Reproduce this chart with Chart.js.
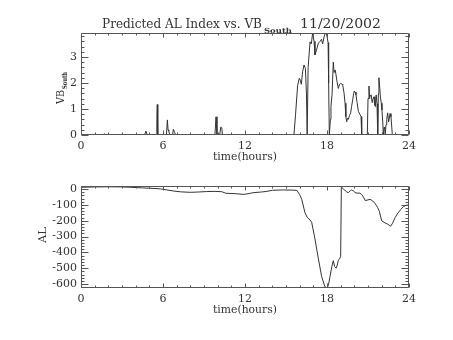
<!DOCTYPE html>
<html lang="en">
<head>
  <meta charset="UTF-8">
  <title>Predicted AL Index vs. VBSouth 11/20/2002</title>
  <script src="https://cdn.jsdelivr.net/npm/chart.js"></script>
  <style>
    body { margin: 0; background: #fff; }
    canvas { display: block; }
  </style>
</head>
<body>
  <canvas id="vbChart" width="453" height="170"></canvas>
  <canvas id="alChart" width="453" height="170"></canvas>
  <script>
    const FONT = '"DejaVu Serif", "Liberation Serif", serif';
    const INK = '#333';

    const hourTicks = [0, 6, 12, 18, 24];

    // solar wind VB south component
    const vbHours = [0, 1.6, 1.7, 1.8, 4.65, 4.75, 4.85, 5.5, 5.55, 5.58, 5.62, 6.25, 6.32, 6.37, 6.42, 6.5,
      6.7, 6.76, 6.85, 6.92, 9.8, 9.88, 9.95, 10.15, 10.22, 10.3, 10.35,
      15.58, 15.7, 15.85, 15.97, 16.05, 16.12, 16.22, 16.32, 16.42, 16.5, 16.55, 16.62, 16.76, 16.85, 16.95,
      17.05, 17.12, 17.25, 17.37, 17.5, 17.6, 17.68, 17.8, 17.88, 17.98, 18.08, 18.12, 18.17, 18.25, 18.29,
      18.37, 18.46, 18.52, 18.6, 18.66, 18.75, 18.83, 18.92, 19.0, 19.1, 19.15, 19.25, 19.32, 19.38, 19.44,
      19.5, 19.56, 19.65, 19.73, 19.8, 19.88, 19.95, 20.0, 20.05, 20.12, 20.2, 20.3, 20.4, 20.49, 20.52, 20.56,
      20.95, 21.0, 21.07, 21.12, 21.15, 21.24, 21.3, 21.34, 21.44, 21.5, 21.54, 21.6, 21.66, 21.71, 21.76,
      21.8, 21.86, 21.9, 21.97, 22.02, 22.08, 22.12, 22.18, 22.22, 22.26, 22.32, 22.37, 22.44, 22.51, 22.56,
      22.61, 22.68, 22.74, 22.78, 24];
    const vbValues = [0, 0, 0.05, 0, 0, 0.15, 0, 0, 0.6, 1.17, 0, 0, 0.58, 0.2, 0.15, 0,
      0, 0.22, 0.1, 0, 0, 0.7, 0, 0, 0.3, 0.28, 0,
      0, 0.8, 1.9, 2.18, 2.1, 1.95, 2.45, 2.69, 2.56, 1.5, 0, 2.6, 3.58, 3.5, 3.92,
      3.6, 3.08, 3.3, 3.53, 3.6, 3.68, 3.5, 3.8, 3.92, 3.85, 3.55, 2.0, 0, 0.6, 1.1,
      1.56, 2.8, 2.4, 2.5, 2.31, 2.0, 1.79, 1.95, 1.99, 1.95, 1.92, 1.6, 1.22, 0.7, 0.51,
      0.65, 0.6, 0.75, 0.85, 1.1, 1.35, 1.6, 1.69, 1.65, 1.54, 1.25, 0.9, 0.8, 0.71, 0.5, 0,
      0, 1.4, 1.88, 1.4, 1.5, 1.54, 1.25, 1.35, 1.47, 1.15, 1.09, 1.54, 1.2, 0, 1.6,
      2.2, 1.8, 1.5, 1.22, 0.96, 0.5, 0, 0.3, 0.25, 0, 0.4, 0.6, 0.85, 0.5, 0.65,
      0.82, 0.7, 0.3, 0, 0];
    const vbTicks = [0, 1, 2, 3];

    // predicted AL index
    const alHours = [0, 1, 2, 3, 3.6, 4.5, 5.2, 5.8, 6.3, 6.8, 7.3, 8.0, 8.6, 9.2, 9.8, 10.3, 10.6, 11.2,
      11.9, 12.3, 12.6, 13.2, 13.6, 14.0, 14.8, 15.5, 15.8, 16.0, 16.15, 16.39, 16.55, 16.76, 16.88, 17.12,
      17.37, 17.61, 17.85, 18.02, 18.12, 18.22, 18.35, 18.46, 18.56, 18.66, 18.75, 18.83, 18.92, 19.0, 19.05,
      19.2, 19.32, 19.45, 19.56, 19.7, 19.8, 19.93, 20.05, 20.2, 20.41, 20.55, 20.7, 20.8, 21.0, 21.15, 21.35,
      21.51, 21.7, 21.83, 22.0, 22.24, 22.45, 22.66, 22.8, 22.98, 23.2, 23.4, 23.63, 23.8, 24.0];
    const alValues = [12, 14, 15, 14, 12, 8, 5, 2, -5, -12, -17, -20, -18, -15, -14, -16, -26, -28,
      -33, -28, -22, -18, -14, -7, -5, -6, -8, -35, -64, -149, -178, -195, -210, -315,
      -440, -553, -617, -625, -600, -553, -490, -452, -490, -500, -480, -450, -440, -425, 15,
      0, -8, -18, -22, -10, -5, -10, -22, -25, -25, -35, -55, -72, -68, -64, -75,
      -90, -115, -140, -200, -213, -222, -234, -215, -180, -150, -128, -108, -102, -100];
    const alTicks = [0, -100, -200, -300, -400, -500, -600];

    // box round the plot with inward major/minor ticks on all four sides
    const frame = {
      id: 'frame',
      afterDatasetsDraw(chart, args, opts) {
        const { ctx, chartArea: a, scales: { x, y } } = chart;
        const L = Math.round(a.left) + 0.5, R = Math.round(a.right) - 0.5;
        const T = Math.round(a.top) + 0.5, B = Math.round(a.bottom) - 0.5;
        ctx.save();
        ctx.strokeStyle = '#555';
        ctx.lineWidth = 1;
        ctx.beginPath();
        ctx.rect(L, T, R - L, B - T);
        for (let h = 0; h <= 24; h++) {
          const px = Math.round(x.getPixelForValue(h)) + 0.5;
          const len = h % 6 === 0 ? 4 : 2;
          ctx.moveTo(px, B); ctx.lineTo(px, B - len);
          ctx.moveTo(px, T); ctx.lineTo(px, T + len);
        }
        const n0 = Math.ceil(y.min / opts.minor - 1e-9), n1 = Math.floor(y.max / opts.minor + 1e-9);
        for (let k = n0; k <= n1; k++) {
          const v = k * opts.minor;
          const py = Math.round(y.getPixelForValue(v)) + 0.5;
          const r = v / opts.major;
          const len = Math.abs(r - Math.round(r)) < 1e-6 ? 7 : 3;
          ctx.moveTo(L, py); ctx.lineTo(L + len, py);
          ctx.moveTo(R, py); ctx.lineTo(R - len, py);
        }
        ctx.stroke();
        ctx.restore();
      }
    };

    // squeeze text to a given width
    function fitText(ctx, text, x, y, width) {
      const w = ctx.measureText(text).width;
      ctx.save();
      ctx.translate(x, y);
      ctx.scale(width / w, 1);
      ctx.fillText(text, 0, 0);
      ctx.restore();
    }

    function makeChart(id, hours, values, yMin, yMax, yTicks, minor, major, plotTop, plotBottom, labels) {
      return new Chart(document.getElementById(id), {
        type: 'line',
        data: {
          datasets: [{
            data: hours.map((h, i) => ({ x: h, y: values[i] })),
            borderColor: INK,
            borderWidth: 1,
            pointRadius: 0,
            tension: 0,
            fill: false
          }]
        },
        options: {
          responsive: false,
          animation: false,
          devicePixelRatio: 1,
          layout: { padding: { left: 0, right: 44, top: plotTop, bottom: 0 } },
          plugins: {
            legend: { display: false },
            tooltip: { enabled: false },
            frame: { minor: minor, major: major }
          },
          scales: {
            x: {
              type: 'linear',
              min: 0,
              max: 24,
              grid: { display: false, drawTicks: false },
              border: { display: false },
              afterBuildTicks: s => { s.ticks = hourTicks.map(v => ({ value: v })); },
              afterFit: s => { s.height = 170 - plotBottom; },
              ticks: { padding: 5, maxRotation: 0, autoSkip: false, color: INK, font: { family: FONT, size: 11 } }
            },
            y: {
              min: yMin,
              max: yMax,
              grid: { display: false, drawTicks: false },
              border: { display: false },
              afterBuildTicks: s => { s.ticks = yTicks.map(v => ({ value: v })); },
              afterFit: s => { s.width = 81; },
              ticks: { padding: 4, color: INK, font: { family: FONT, size: 11 } }
            }
          }
        },
        plugins: [frame, labels]
      });
    }

    makeChart('vbChart', vbHours, vbValues, 0, 3.92, vbTicks, 0.2, 1, 33, 135, {
      id: 'vbText',
      afterDraw(chart) {
        const ctx = chart.ctx;
        ctx.save();
        ctx.fillStyle = INK;
        ctx.textBaseline = 'alphabetic';
        ctx.font = `12px ${FONT}`;
        fitText(ctx, 'Predicted AL Index vs. VB', 102, 28, 160);
        fitText(ctx, '11/20/2002', 300, 28, 81);
        ctx.font = `bold 7px ${FONT}`;
        fitText(ctx, 'South', 264, 33, 28);
        ctx.font = `11px ${FONT}`;
        fitText(ctx, 'time(hours)', 213, 160, 64);
        ctx.translate(64, 104);
        ctx.rotate(-Math.PI / 2);
        fitText(ctx, 'VB', 0, 0, 14);
        ctx.font = `bold 7px ${FONT}`;
        fitText(ctx, 'South', 15, 3, 17);
        ctx.restore();
      }
    });

    makeChart('alChart', alHours, alValues, -625, 20, alTicks, 20, 100, 16, 118, {
      id: 'alText',
      afterDraw(chart) {
        const ctx = chart.ctx;
        ctx.save();
        ctx.fillStyle = INK;
        ctx.textBaseline = 'alphabetic';
        ctx.font = `11px ${FONT}`;
        fitText(ctx, 'time(hours)', 213, 143, 64);
        ctx.translate(46, 73);
        ctx.rotate(-Math.PI / 2);
        fitText(ctx, 'AL', 0, 0, 16);
        ctx.restore();
      }
    });
  </script>
</body>
</html>
